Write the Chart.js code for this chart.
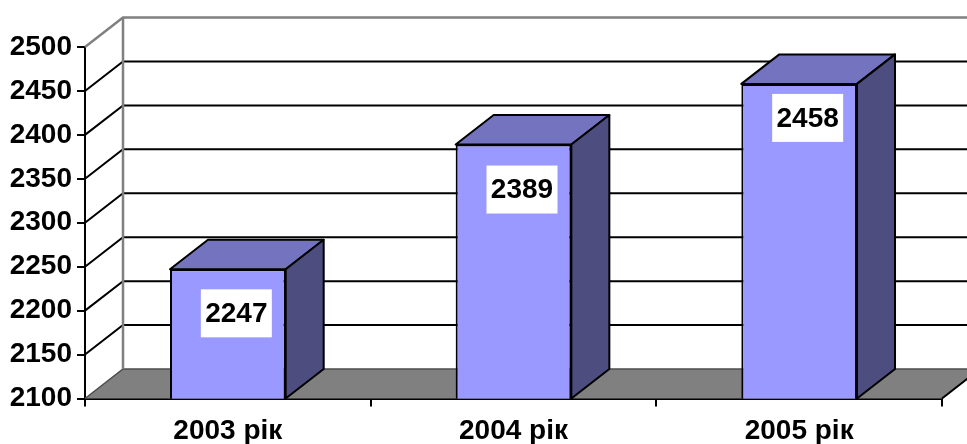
<!DOCTYPE html>
<html>
<head>
<meta charset="utf-8">
<script src="https://cdn.jsdelivr.net/npm/chart.js@4/dist/chart.umd.min.js"></script>
<style>
  html, body { margin:0; padding:0; background:#fff; overflow:hidden; }
  canvas { display:block; }
</style>
</head>
<body>
<canvas id="chart" width="967" height="444"></canvas>
<script>
const categories = ["2003 рік", "2004 рік", "2005 рік"];
const values = [2247, 2389, 2458];
const yMin = 2100;
const yMax = 2500;
const yStep = 50;

// 3D look: how far the back wall sits from the front plane
const depthX = 38;
const depthY = 29.5;
const labelOffsets = [44, 45, 34]; // label centre below the bar top
const labelFont = "bold 28px 'Liberation Sans', Arial, sans-serif";

const box3d = {
  id: "box3d",
  beforeDatasetsDraw(chart) {
    const { ctx, chartArea: a, scales: { y } } = chart;
    ctx.save();

    // floor
    ctx.fillStyle = "#808080";
    ctx.beginPath();
    ctx.moveTo(a.left, a.bottom);
    ctx.lineTo(a.right, a.bottom);
    ctx.lineTo(a.right + depthX, a.bottom - depthY);
    ctx.lineTo(a.left + depthX, a.bottom - depthY);
    ctx.closePath();
    ctx.fill();
    ctx.strokeStyle = "#4d4d4d";
    ctx.lineWidth = 1.5;
    ctx.beginPath();
    ctx.moveTo(a.left, a.bottom);
    ctx.lineTo(a.left + depthX, a.bottom - depthY);
    ctx.lineTo(a.right + depthX, a.bottom - depthY);
    ctx.stroke();
    ctx.strokeStyle = "#000";
    ctx.lineWidth = 2;
    ctx.beginPath();
    ctx.moveTo(a.right, a.bottom);
    ctx.lineTo(a.right + depthX, a.bottom - depthY);
    ctx.stroke();

    // grid lines on side and back wall
    for (let v = yMin + yStep; v <= yMax; v += yStep) {
      const py = y.getPixelForValue(v);
      ctx.strokeStyle = v === yMax ? "#808080" : "#000";
      ctx.lineWidth = v === yMax ? 2.5 : 2;
      ctx.beginPath();
      ctx.moveTo(a.left, py);
      ctx.lineTo(a.left + depthX, py - depthY);
      ctx.lineTo(a.right + depthX, py - depthY);
      ctx.stroke();
    }

    // back wall edge
    ctx.strokeStyle = "#808080";
    ctx.lineWidth = 2.5;
    ctx.beginPath();
    ctx.moveTo(a.left + depthX, y.getPixelForValue(yMax) - depthY);
    ctx.lineTo(a.left + depthX, a.bottom - depthY);
    ctx.stroke();
    ctx.restore();
  },
  afterDatasetsDraw(chart) {
    const { ctx, chartArea: a } = chart;
    const bars = chart.getDatasetMeta(0).data;
    ctx.save();
    ctx.strokeStyle = "#000";
    ctx.lineWidth = 2;
    ctx.lineJoin = "round";

    bars.forEach((b, i) => {
      const half = b.width / 2;
      const l = b.x - half, r = b.x + half, t = b.y, bot = a.bottom;

      // top face
      ctx.fillStyle = "#7373bf";
      ctx.beginPath();
      ctx.moveTo(l, t);
      ctx.lineTo(l + depthX, t - depthY);
      ctx.lineTo(r + depthX, t - depthY);
      ctx.lineTo(r, t);
      ctx.closePath();
      ctx.fill();
      ctx.stroke();

      // side face
      ctx.fillStyle = "#4d4d80";
      ctx.beginPath();
      ctx.moveTo(r, t);
      ctx.lineTo(r + depthX, t - depthY);
      ctx.lineTo(r + depthX, bot - depthY);
      ctx.lineTo(r, bot);
      ctx.closePath();
      ctx.fill();
      ctx.stroke();

      // value label
      const cy = t + labelOffsets[i];
      ctx.fillStyle = "#fff";
      ctx.fillRect(b.x - 27, cy - 24, 71, 48);
      ctx.fillStyle = "#000";
      ctx.font = labelFont;
      ctx.textAlign = "center";
      ctx.textBaseline = "middle";
      ctx.fillText(String(values[i]), b.x + 8.5, cy + 1);
    });
    ctx.restore();
  }
};

new Chart(document.getElementById("chart"), {
  type: "bar",
  data: {
    labels: categories,
    datasets: [{
      data: values,
      backgroundColor: "#9999ff",
      borderColor: "#000",
      borderWidth: 2,
      categoryPercentage: 0.405,
      barPercentage: 1
    }]
  },
  options: {
    responsive: false,
    animation: false,
    layout: { padding: { top: 47, right: 25 } },
    plugins: { legend: { display: false }, tooltip: { enabled: false } },
    scales: {
      x: {
        afterFit: s => { s.height = 45.5; },
        border: { color: "#000", width: 2 },
        grid: { drawOnChartArea: false, drawTicks: true, tickLength: 8, color: "#000", lineWidth: 2 },
        ticks: { color: "#000", padding: 8, maxRotation: 0, font: { family: "'Liberation Sans', Arial, sans-serif", size: 28, weight: "bold" } }
      },
      y: {
        min: yMin,
        max: yMax,
        afterFit: s => { s.width = 85; },
        border: { color: "#000", width: 2 },
        grid: { drawOnChartArea: false, drawTicks: true, tickLength: 8, color: "#000", lineWidth: 2 },
        ticks: { stepSize: yStep, color: "#000", padding: 5, callback: v => String(v), font: { family: "'Liberation Sans', Arial, sans-serif", size: 28, weight: "bold" } }
      }
    }
  },
  plugins: [box3d]
});
</script>
</body>
</html>
